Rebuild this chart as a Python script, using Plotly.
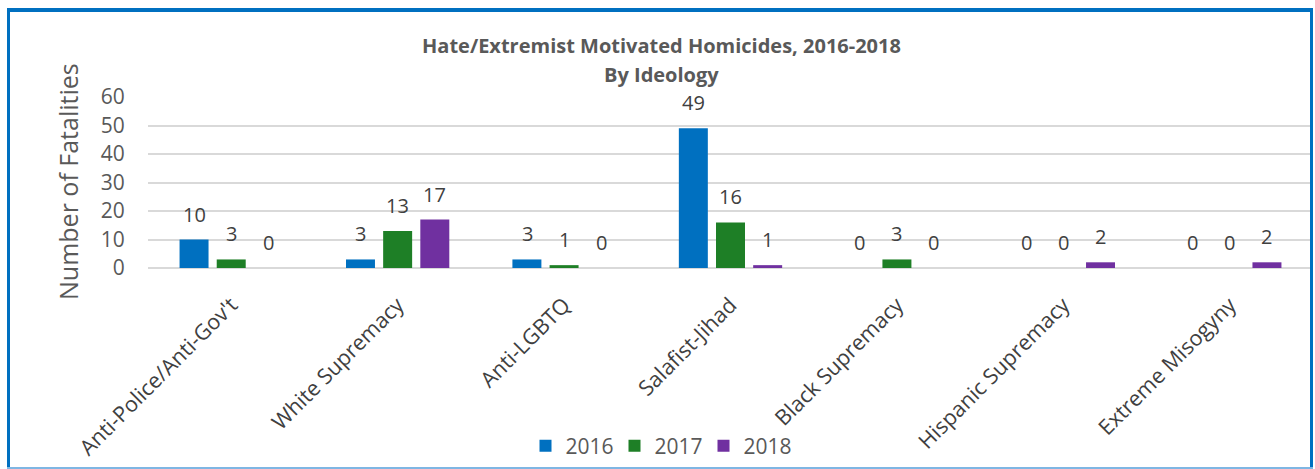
import plotly.graph_objects as go

categories = ["Anti-Police/Anti-Gov't", "White Supremacy", "Anti-LGBTQ", "Salafist-Jihad",
              "Black Supremacy", "Hispanic Supremacy", "Extreme Misogyny"]
years = ["2016", "2017", "2018"]
v2016 = [10, 3, 3, 49, 0, 0, 0]
v2017 = [3, 13, 1, 16, 3, 0, 0]
v2018 = [0, 17, 0, 1, 0, 2, 2]
y_ticks = [0, 10, 20, 30, 40, 50, 60]

colors = ["#0070C0", "#1E7F26", "#7030A0"]
FONT = "Open Sans"

W, H = 1315, 469
L, R, T, B = 148, 2, 97, 201
pw, ph = W - L - R, H - T - B


def px_x(x):  # pixel x -> paper
    return (x - L) / pw


def px_y(y):  # pixel y -> paper
    return (H - B - y) / ph


fig = go.Figure()
annotations = []
group_px = [-37, 0, 37]
for name, vals, c, dx in zip(years, [v2016, v2017, v2018], colors, group_px):
    fig.add_trace(go.Bar(
        x=categories, y=vals, name=name, marker=dict(color=c, line=dict(width=0)),
    ))
    for cat, v in zip(categories, vals):
        annotations.append(dict(
            x=cat, y=v, xref="x", yref="y", text=str(v), showarrow=False,
            xanchor="center", yanchor="bottom", xshift=dx, yshift=10,
            font=dict(family=FONT, size=20, color="#404040"),
        ))

shapes = [
    dict(type="line", xref="paper", yref="paper", x0=px_x(8.5), x1=px_x(8.5), y0=px_y(468), y1=px_y(10),
         line=dict(color="#0070C0", width=3)),
    dict(type="line", xref="paper", yref="paper", x0=px_x(1311.5), x1=px_x(1311.5), y0=px_y(468), y1=px_y(10),
         line=dict(color="#0070C0", width=3)),
    dict(type="line", xref="paper", yref="paper", x0=px_x(7), x1=px_x(1313), y0=px_y(10), y1=px_y(10),
         line=dict(color="#0070C0", width=4)),
    dict(type="line", xref="paper", yref="paper", x0=px_x(7), x1=px_x(1313), y0=px_y(468), y1=px_y(468),
         line=dict(color="#7FB6E3", width=2)),
]

annotations += [
    dict(text="<b>Hate/Extremist Motivated Homicides, 2016-2018</b>", xref="paper", yref="paper",
         x=px_x(661), y=px_y(45), xanchor="center", yanchor="middle", showarrow=False,
         font=dict(family=FONT, size=20, color="#595959")),
    dict(text="<b>By Ideology</b>", xref="paper", yref="paper",
         x=px_x(661), y=px_y(74), xanchor="center", yanchor="middle", showarrow=False,
         font=dict(family=FONT, size=20, color="#595959")),
    dict(text="Number of Fatalities", xref="paper", yref="paper",
         x=px_x(68), y=px_y(182), xanchor="center", yanchor="middle",
         textangle=-90, showarrow=False,
         font=dict(family=FONT, size=25, color="#595959")),
]

fig.update_layout(
    width=W, height=H,
    margin=dict(l=L, r=R, t=T, b=B, autoexpand=False),
    paper_bgcolor="white", plot_bgcolor="white",
    barmode="group", bargap=0.33, bargroupgap=0.22,
    font=dict(family=FONT, color="#595959"),
    xaxis=dict(tickangle=-45, tickfont=dict(family=FONT, size=21.5, color="#404040"), automargin=False,
               showgrid=False, showline=False, ticks="outside", ticklen=15, tickcolor="rgba(0,0,0,0)"),
    yaxis=dict(range=[0, 60], tickvals=y_ticks, showgrid=True, gridcolor="#D9D9D9", gridwidth=1.5,
               zeroline=True, zerolinecolor="#D9D9D9", zerolinewidth=1.5, showline=False, automargin=False,
               tickfont=dict(family=FONT, size=21, color="#595959"),
               ticks="outside", ticklen=18, tickcolor="rgba(0,0,0,0)"),
    legend=dict(orientation="h", x=px_x(659), xanchor="center", y=px_y(446), yanchor="middle",
                bgcolor="rgba(0,0,0,0)", entrywidth=44, itemwidth=30,
                font=dict(family=FONT, size=21, color="#595959"), traceorder="normal"),
    shapes=shapes,
    annotations=annotations,
)

fig.write_html("out.html", config={"displayModeBar": False},
               post_script="document.body.style.margin='0px';document.body.style.overflow='hidden';")
